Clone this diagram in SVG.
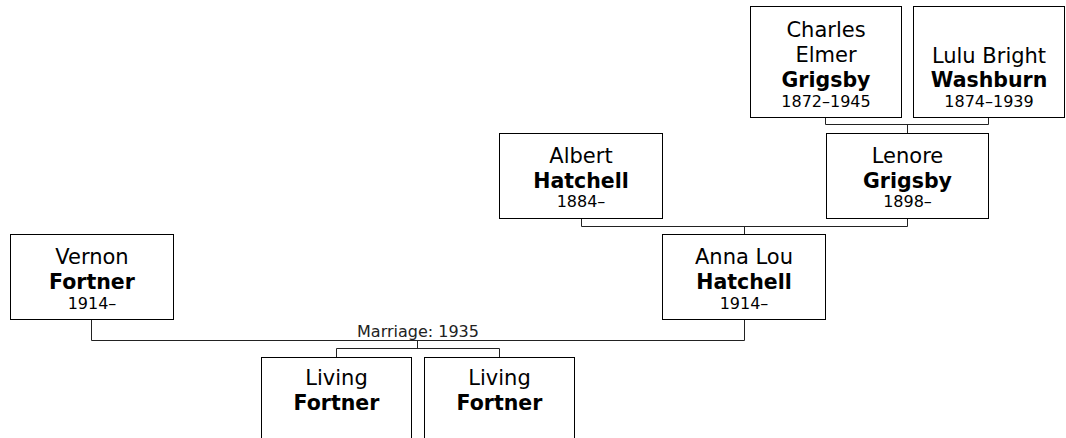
<svg xmlns="http://www.w3.org/2000/svg" width="1066" height="438" viewBox="0 0 1066 438">
<style>
.box{fill:#fff;stroke:#000;stroke-width:1}
.conn{fill:none;stroke:#222;stroke-width:1}
text{font-family:"DejaVu Sans",Verdana,sans-serif;text-anchor:middle;fill:#000}
.n{font-size:21px}
.b{font-size:20.5px;font-weight:bold}
.y{font-size:16px}
.m{font-size:16px;fill:#222}
</style>
<rect width="1066" height="438" fill="#fff"/>
<g id="connectors">
<path class="conn" d="M825.5 117.5V124.5H988.5V117.5M907.5 124.5V133.5"/>
<path class="conn" d="M581.5 218.5V226.5H907.5V218.5M744.5 226.5V234.5"/>
<path class="conn" d="M91.5 319.5V340.5H744.5V319.5M417.5 340.5V348.5M336.5 357.5V348.5H499.5V357.5"/>
<text class="m" x="418" y="337">Marriage: 1935</text>
</g>
<g id="charles">
<rect class="box" x="750.5" y="6.5" width="151" height="111"/>
<text class="n" x="826" y="37">Charles</text>
<text class="n" x="826" y="62">Elmer</text>
<text class="b" x="826" y="86.5">Grigsby</text>
<text class="y" x="826" y="107">1872–1945</text>
</g>
<g id="lulu">
<rect class="box" x="913.5" y="6.5" width="151" height="111"/>
<text class="n" x="989" y="62.5">Lulu Bright</text>
<text class="b" x="989" y="87">Washburn</text>
<text class="y" x="989" y="107">1874–1939</text>
</g>
<g id="lenore">
<rect class="box" x="826.5" y="133.5" width="162" height="85"/>
<text class="n" x="907.5" y="163">Lenore</text>
<text class="b" x="907.5" y="188">Grigsby</text>
<text class="y" x="907.5" y="207">1898–</text>
</g>
<g id="albert">
<rect class="box" x="499.5" y="133.5" width="163" height="85"/>
<text class="n" x="581" y="162.5">Albert</text>
<text class="b" x="581" y="188">Hatchell</text>
<text class="y" x="581" y="207">1884–</text>
</g>
<g id="annalou">
<rect class="box" x="662.5" y="234.5" width="163" height="85"/>
<text class="n" x="744" y="263.5">Anna Lou</text>
<text class="b" x="744" y="288.5">Hatchell</text>
<text class="y" x="744" y="308.5">1914–</text>
</g>
<g id="vernon">
<rect class="box" x="10.5" y="234.5" width="163" height="85"/>
<text class="n" x="92" y="263.5">Vernon</text>
<text class="b" x="92" y="288.5">Fortner</text>
<text class="y" x="92" y="309">1914–</text>
</g>
<g id="living1">
<rect class="box" x="261.5" y="357.5" width="150" height="100"/>
<text class="n" x="336.5" y="385">Living</text>
<text class="b" x="336.5" y="410">Fortner</text>
</g>
<g id="living2">
<rect class="box" x="424.5" y="357.5" width="150" height="100"/>
<text class="n" x="499.5" y="385">Living</text>
<text class="b" x="499.5" y="410">Fortner</text>
</g>
</svg>
